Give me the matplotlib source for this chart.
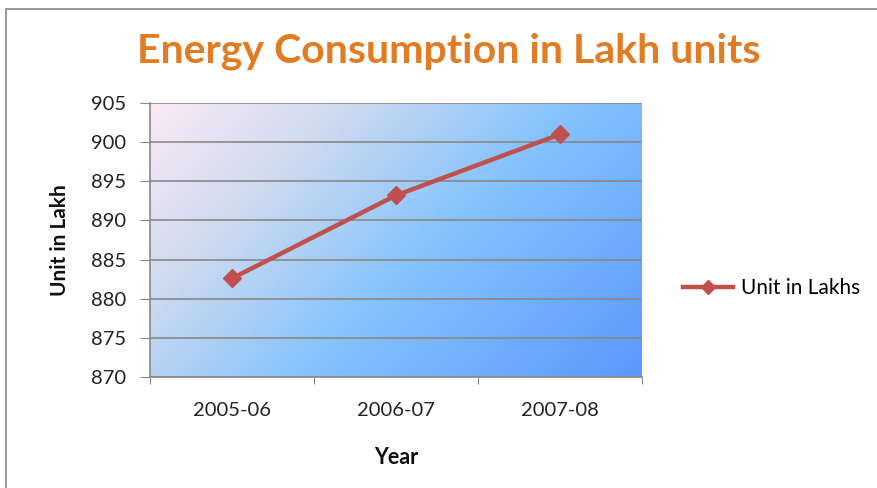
import numpy as np
import matplotlib
matplotlib.use("Agg")
import matplotlib.pyplot as plt
from matplotlib.colors import LinearSegmentedColormap
from matplotlib.lines import Line2D
from matplotlib.patches import Rectangle

years = ["2005-06", "2006-07", "2007-08"]
units = [882.6, 893.2, 901.0]
y_ticks = [870, 875, 880, 885, 890, 895, 900, 905]

plt.rcParams['font.family'] = ['Lato', 'DejaVu Sans']

fig = plt.figure(figsize=(8.78, 4.88), dpi=100)
ax = fig.add_axes([150 / 878, 1 - 377 / 488, 492 / 878, 274 / 488])

# diagonal gradient background of the plot area (pink top-left -> blue bottom-right)
grad = LinearSegmentedColormap.from_list(
    "bg", [(0, "#fbe9f7"), (0.25, "#cfdbef"), (0.55, "#86c3fd"), (1, "#5b98fd")])
xx, yy = np.meshgrid(np.linspace(0, 1, 300), np.linspace(0, 1, 200))
t = (xx * 492 + (1 - yy) * 274) / (492 + 274)
ax.imshow(t, cmap=grad, extent=[0, 1, 0, 1], origin="lower", transform=ax.transAxes,
          aspect="auto", zorder=0, interpolation="bilinear")

x = np.arange(len(years))
ax.plot(x, units, color="#c0504d", lw=3.2, marker="D", ms=9, zorder=3)

ax.set_xlim(-0.5, len(years) - 0.5)
ax.set_ylim(870, 905)
ax.set_yticks(y_ticks)
ax.set_xticks(np.arange(len(years) + 1) - 0.5)
ax.set_xticklabels([])
ax.set_xticks(x, minor=True)
ax.set_xticklabels(years, minor=True)
ax.tick_params(axis="x", which="minor", length=0, pad=18, labelsize=14.5, colors="#222222")
ax.tick_params(axis="x", which="major", length=5, color="#888888")
ax.tick_params(axis="y", length=7, color="#888888", labelsize=14.5, labelcolor="#222222", pad=10)
ax.grid(axis="y", color="#888888", lw=1.2, zorder=1)
ax.set_axisbelow(False)
for s in ["top", "right"]:
    ax.spines[s].set_visible(False)
for s in ["left", "bottom"]:
    ax.spines[s].set_color("#888888")
    ax.spines[s].set_linewidth(1.2)

ax.set_xlabel("Year", fontsize=15.5, fontweight="bold", labelpad=20, color="#111111")
ax.set_ylabel("Unit in Lakh", fontsize=15, fontweight="bold", labelpad=15, color="#111111")

fig.text(449 / 878, 1 - 51 / 488, "Energy Consumption in Lakh units", ha="center", va="center",
         fontsize=29.5, fontweight="bold", color="#e37b22")

handle = Line2D([], [], color="#c0504d", lw=3.2, marker="D", ms=7)
fig.legend([handle], ["Unit in Lakhs"], loc="center left", bbox_to_anchor=(664 / 878, 1 - 288 / 488),
           frameon=False, fontsize=15, handlelength=2.4, handletextpad=0.4)

fig.patches.append(Rectangle((6 / 878, -0.05), 1.05, 1 - 9 / 488 + 0.05, transform=fig.transFigure,
                             fill=False, edgecolor="#888888", lw=1.2))

fig.savefig("out.png", dpi=100)
